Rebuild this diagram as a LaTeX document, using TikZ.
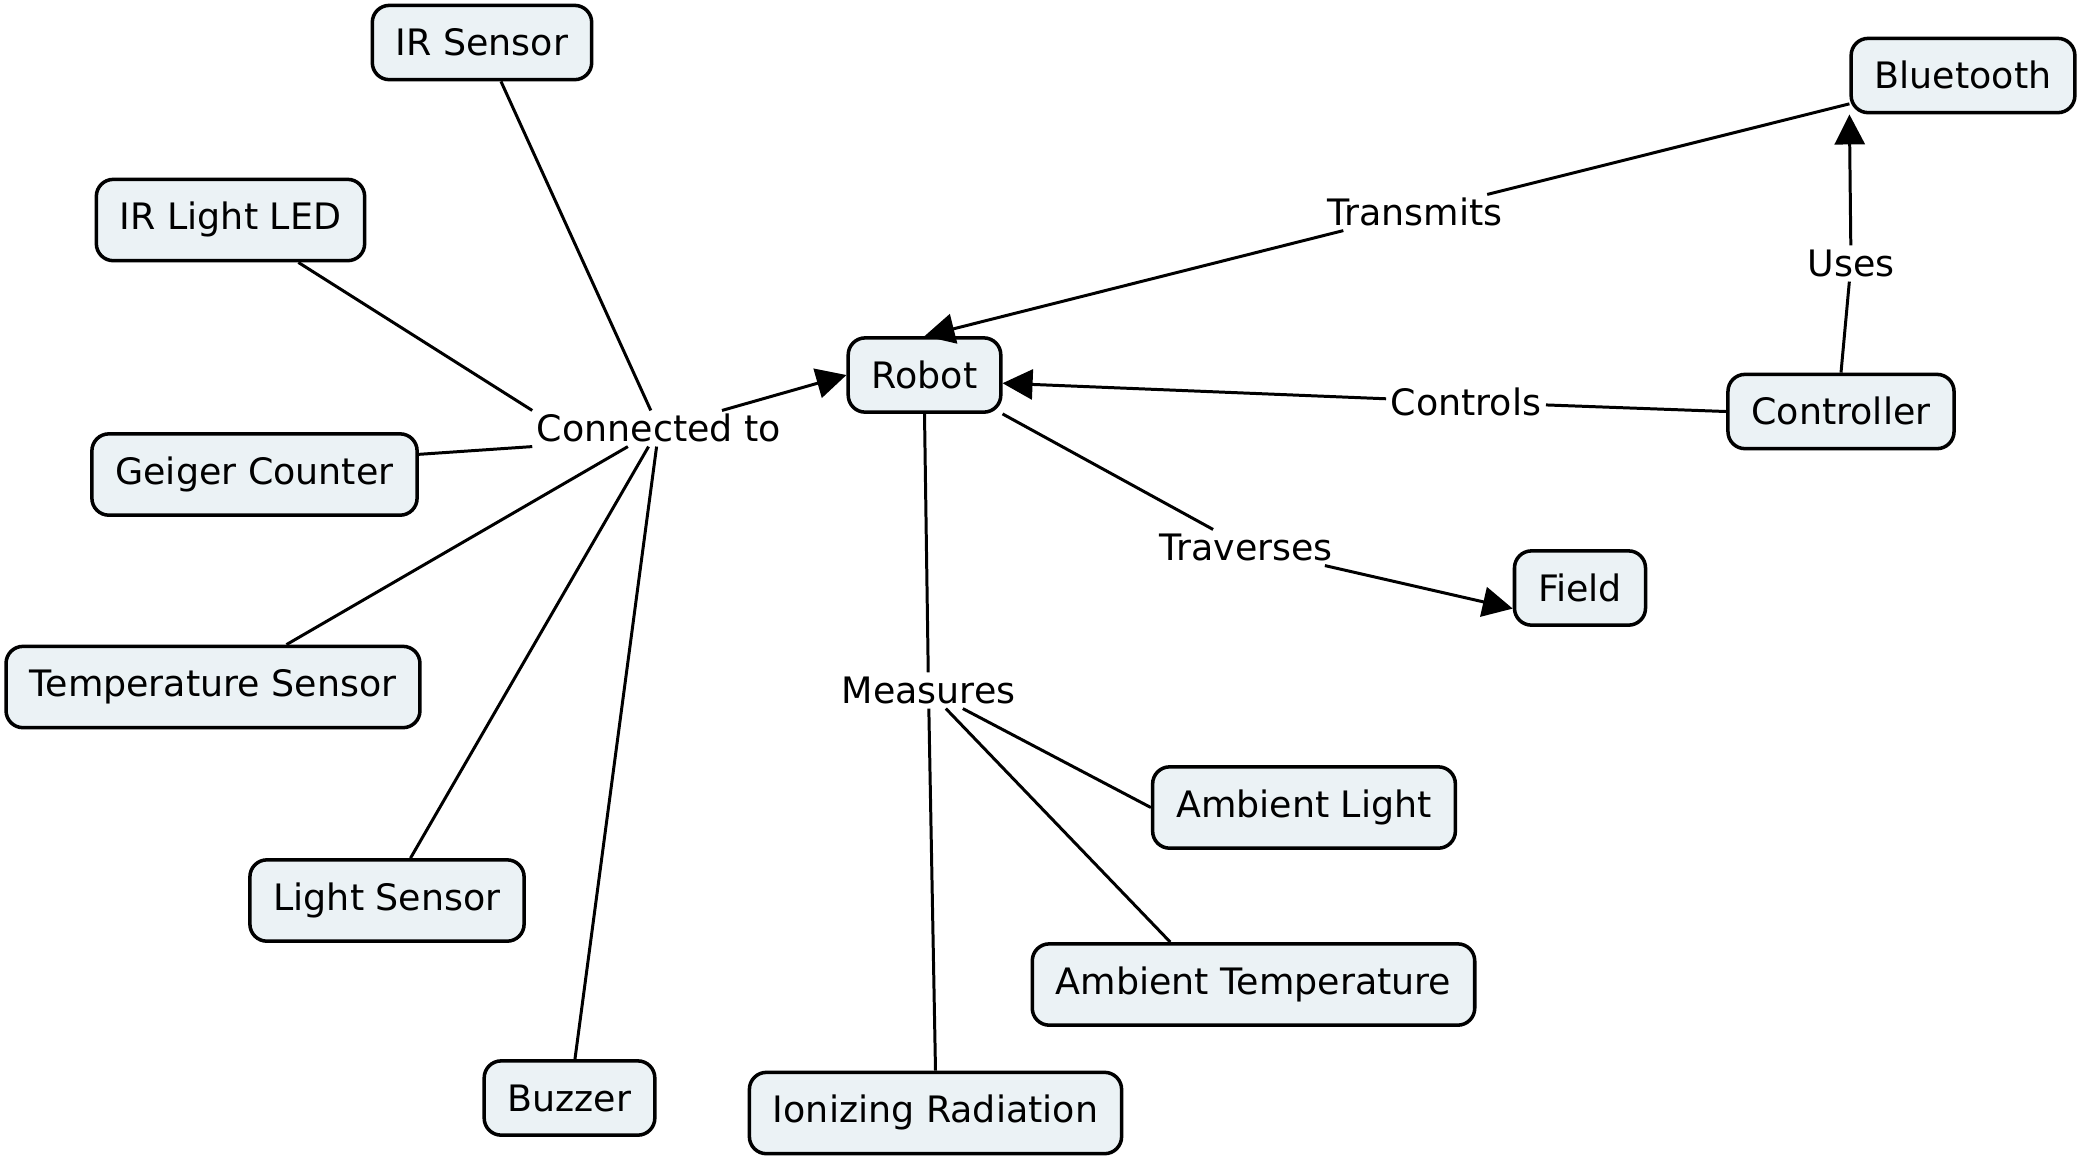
\documentclass[tikz,border=0pt]{standalone}
\usepackage{fontspec}
\setmainfont{DejaVu Sans}
\usetikzlibrary{arrows.meta}
\definecolor{cfill}{RGB}{235,242,245}
\tikzset{
  concept/.style={draw, line width=1pt, fill=cfill, rounded corners=0.17cm,
    inner xsep=0.235cm, inner ysep=0.235cm, text height=0.76em,
    font=\fontsize{10.35}{12.5}\selectfont},
  linkph/.style={inner xsep=0.04cm, inner ysep=0.04cm, text height=0.76em, text depth=0pt,
    font=\fontsize{10.35}{12.5}\selectfont},
  link/.style={line width=0.85pt},
  arr/.style={line width=0.85pt, -{Triangle[length=0.3cm,width=0.3cm]}}
}
\begin{document}
\begin{tikzpicture}[x=0.01cm,y=-0.01cm]
\useasboundingbox[fill=white] (0,0) rectangle (2081,1159);
% concepts
\node[concept] (irs) at (482,42.5) {IR Sensor};
\node[concept] (irl) at (230.5,220) {IR Light LED};
\node[concept] (gc) at (254.5,474.5) {Geiger Counter};
\node[concept] (ts) at (213,687) {Temperature Sensor};
\node[concept] (ls) at (387,900.5) {Light Sensor};
\node[concept] (bz) at (569.5,1098) {Buzzer};
\node[concept] (robot) at (924.5,375) {Robot};
\node[concept] (ion) at (935.5,1113) {Ionizing Radiation};
\node[concept] (at) at (1253.5,984.5) {Ambient Temperature};
\node[concept] (al) at (1304,807.5) {Ambient Light};
\node[concept] (field) at (1580,588) {Field};
\node[concept] (ctrl) at (1841,411.5) {Controller};
\node[concept] (bt) at (1963,75.5) {Bluetooth};
% linking phrases
\node[linkph] (ct) at (659,428.5) {Connected to};
\node[linkph] (mes) at (928.5,690.5) {Measures};
\node[linkph] (trv) at (1246,547.5) {Traverses};
\node[linkph] (trm) at (1415,212.5) {Transmits};
\node[linkph] (ctl) at (1466,402) {Controls};
\node[linkph] (uses) at (1851,263.5) {Uses};
% connectors
\draw[link] (irs.296) -- (ct);
\draw[link] (irl.328) -- (ct.north west);
\draw[link] (gc.7) -- (ct.south west);
\draw[link] (ts.30) -- (ct);
\draw[link] (ls.61) -- (ct);
\draw[link] (bz.82) -- (ct);
\draw[arr] (ct.16) -- (robot.west);
\draw[link] (robot.south) -- (mes);
\draw[link] (ion.north) -- (mes);
\draw[link] (at.153) -- (mes);
\draw[link] (al.west) -- (mes);
\draw[link] (robot.south east) -- (trv);
\draw[arr] (trv) -- (field.197);
\draw[link] (ctrl.west) -- (ctl);
\draw[arr] (ctl) -- (robot.354);
\draw[link] (ctrl.north) -- (uses);
\draw[arr] (uses) -- (bt.south west);
\draw[link] (bt.194) -- (trm);
\draw[arr] (trm) -- (robot.north);
\end{tikzpicture}
\end{document}
